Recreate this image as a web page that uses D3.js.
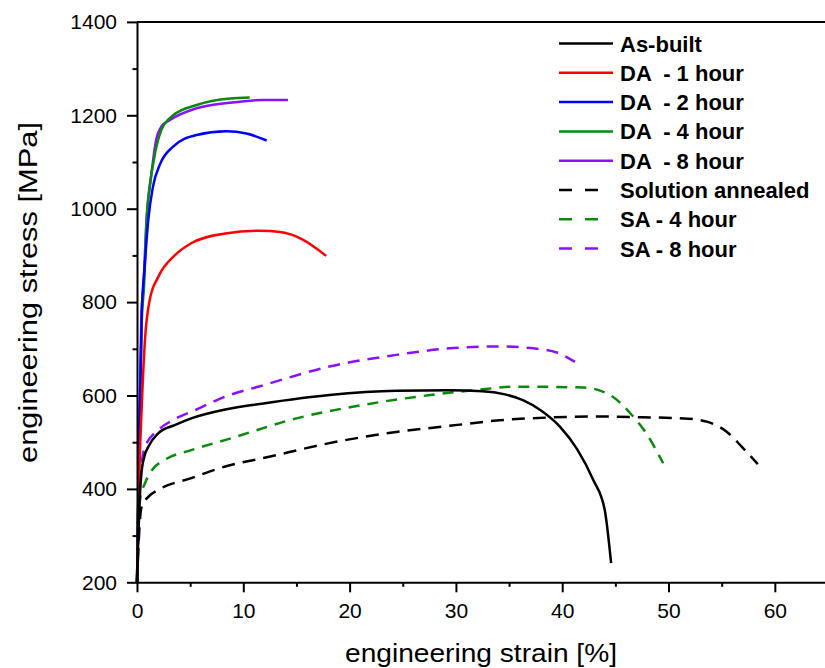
<!DOCTYPE html>
<html>
<head>
<meta charset="utf-8">
<script src="https://cdn.jsdelivr.net/npm/d3@7"></script>
<style>
  body { margin: 0; background: #fff; }
  svg { font-family: "Liberation Sans", Arial, sans-serif; }
</style>
</head>
<body>
<script>
// strain [%], stress [MPa] pairs
const asBuilt = [[0,200],[0.2,350],[0.4,430],[0.7,470],[1.06,490],[2.0,519],[3.6,537],[5.1,551],[8.3,570],[11.9,583],[18.1,601],[24.4,610],[29.4,611],[32.5,609],[34.5,603],[36.3,590],[38.0,568],[39.8,533],[41.4,485],[42.9,420],[44.0,355],[44.6,241]];
const da1 = [[0,200],[0.2,420],[0.45,580],[0.75,719],[1.2,805],[2.0,854],[3.6,901],[5.1,926],[8.3,947],[11.5,953],[13.5,950],[15.5,935],[17.8,899]];
const da2 = [[0,200],[0.2,500],[0.45,780],[0.7,869],[1.06,976],[1.5,1047],[2.2,1097],[3.4,1133],[5.6,1158],[8.4,1166],[10.3,1161],[12.2,1146]];
const da4 = [[0,200],[0.2,480],[0.45,760],[0.66,833],[0.9,976],[1.2,1047],[1.7,1119],[2.3,1169],[3.4,1200],[5.6,1222],[8.75,1236],[10.6,1238]];
const da8 = [[0,200],[0.2,480],[0.4,760],[0.6,833],[0.9,976],[1.4,1083],[1.8,1147],[2.3,1176],[3.1,1190],[5.6,1215],[8.75,1227],[11.9,1233],[14.2,1233]];
const solAnn = [[0,200],[0.3,340],[0.44,362],[1.06,383],[2.0,398],[5.1,423],[8.3,448],[11.9,466],[18.1,498],[24.4,522],[29.4,535],[34.1,547],[38.9,553],[43.6,555],[48.3,553],[51.4,551],[53.6,544],[55.5,522],[56.9,490],[58.4,453]];
const sa4 = [[0,200],[0.3,380],[0.75,412],[1.4,440],[2.6,462],[5.1,483],[8.5,506],[15.0,551],[21.3,580],[27.6,601],[32.0,612],[35.7,619],[42.0,617],[44.5,601],[46.4,562],[47.9,519],[49.5,455]];
const sa8 = [[0,200],[0.3,420],[0.75,490],[2.0,526],[3.6,550],[5.6,570],[8.0,595],[11.9,622],[18.1,662],[24.4,687],[29.4,701],[34.1,705],[37.3,701],[39.5,692],[41.2,672]];

const labels = ['As-built', 'DA  - 1 hour', 'DA  - 2 hour', 'DA  - 4 hour', 'DA  - 8 hour', 'Solution annealed', 'SA - 4 hour', 'SA - 8 hour'];
const xTicks = [0, 10, 20, 30, 40, 50, 60];
const yTicks = [200, 400, 600, 800, 1000, 1200, 1400];

const series = [
  {data: asBuilt, color: '#000000', dash: null},
  {data: da1, color: '#ff0000', dash: null},
  {data: da2, color: '#0000ff', dash: null},
  {data: da4, color: '#0a8a0a', dash: null},
  {data: da8, color: '#8a10ff', dash: null},
  {data: solAnn, color: '#000000', dash: '13,8'},
  {data: sa4, color: '#0a8a0a', dash: '11,8'},
  {data: sa8, color: '#8a10ff', dash: '12,8'}
];

const width = 825, height = 668;
const svg = d3.select('body').append('svg')
    .attr('width', width)
    .attr('height', height);

const x = d3.scaleLinear().domain([0, 64.72]).range([137, 825]);
const y = d3.scaleLinear().domain([200, 1400]).range([582.3, 21.9]);

// curves, drawn in reverse so the As-built ends up on top
const line = d3.line()
    .x(d => x(d[0]))
    .y(d => y(d[1]))
    .curve(d3.curveMonotoneX);

svg.append('g').selectAll('path')
    .data(series.slice().reverse())
    .enter().append('path')
    .attr('d', d => line(d.data))
    .attr('fill', 'none')
    .attr('stroke', d => d.color)
    .attr('stroke-width', 2.5)
    .attr('stroke-dasharray', d => d.dash);

// axes
svg.append('g')
    .attr('transform', `translate(0,${y(200)})`)
    .call(d3.axisBottom(x).tickValues(xTicks).tickFormat(d3.format('d')).tickSize(10).tickPadding(11).tickSizeOuter(0));
svg.append('g')
    .attr('transform', `translate(0,${y(200)})`)
    .call(d3.axisBottom(x).tickValues(d3.range(5, 60, 10)).tickSize(4.5).tickFormat('').tickSizeOuter(0))
    .select('.domain').remove();

svg.append('g')
    .attr('transform', `translate(${x(0)},0)`)
    .call(d3.axisLeft(y).tickValues(yTicks).tickFormat(d3.format('d')).tickSize(10).tickPadding(10).tickSizeOuter(0));
svg.append('g')
    .attr('transform', `translate(${x(0)},0)`)
    .call(d3.axisLeft(y).tickValues(d3.range(300, 1400, 200)).tickSize(4.5).tickFormat('').tickSizeOuter(0))
    .select('.domain').remove();

svg.selectAll('.domain, .tick line')
    .attr('stroke', '#000')
    .attr('stroke-width', 2);
svg.selectAll('.tick text')
    .attr('fill', '#000')
    .style('font-size', '21px');

// top frame line
svg.append('line')
    .attr('x1', x(0)).attr('x2', width)
    .attr('y1', y(1400)).attr('y2', y(1400))
    .attr('stroke', '#000')
    .attr('stroke-width', 2);

// axis titles
svg.append('text')
    .attr('x', 481)
    .attr('y', 662)
    .attr('text-anchor', 'middle')
    .attr('textLength', 272)
    .attr('lengthAdjust', 'spacingAndGlyphs')
    .style('font-size', '26px')
    .text('engineering strain [%]');

svg.append('text')
    .attr('transform', 'translate(37,292.5) rotate(-90)')
    .attr('text-anchor', 'middle')
    .attr('textLength', 341)
    .attr('lengthAdjust', 'spacingAndGlyphs')
    .style('font-size', '25px')
    .text('engineering stress [MPa]');

// legend
const legend = svg.append('g').selectAll('g')
    .data(series)
    .enter().append('g')
    .attr('transform', (d, i) => `translate(0,${43.5 + i * 29.3})`);

legend.append('line')
    .attr('x1', 559)
    .attr('x2', d => d.dash ? 598 : 613)
    .attr('stroke', d => d.color)
    .attr('stroke-width', 2.5)
    .attr('stroke-dasharray', d => d.dash ? '13,13' : null);

legend.append('text')
    .attr('x', 620)
    .attr('y', 8)
    .style('font-size', '22px')
    .style('font-weight', 'bold')
    .style('white-space', 'pre')
    .text((d, i) => labels[i]);
</script>
</body>
</html>
